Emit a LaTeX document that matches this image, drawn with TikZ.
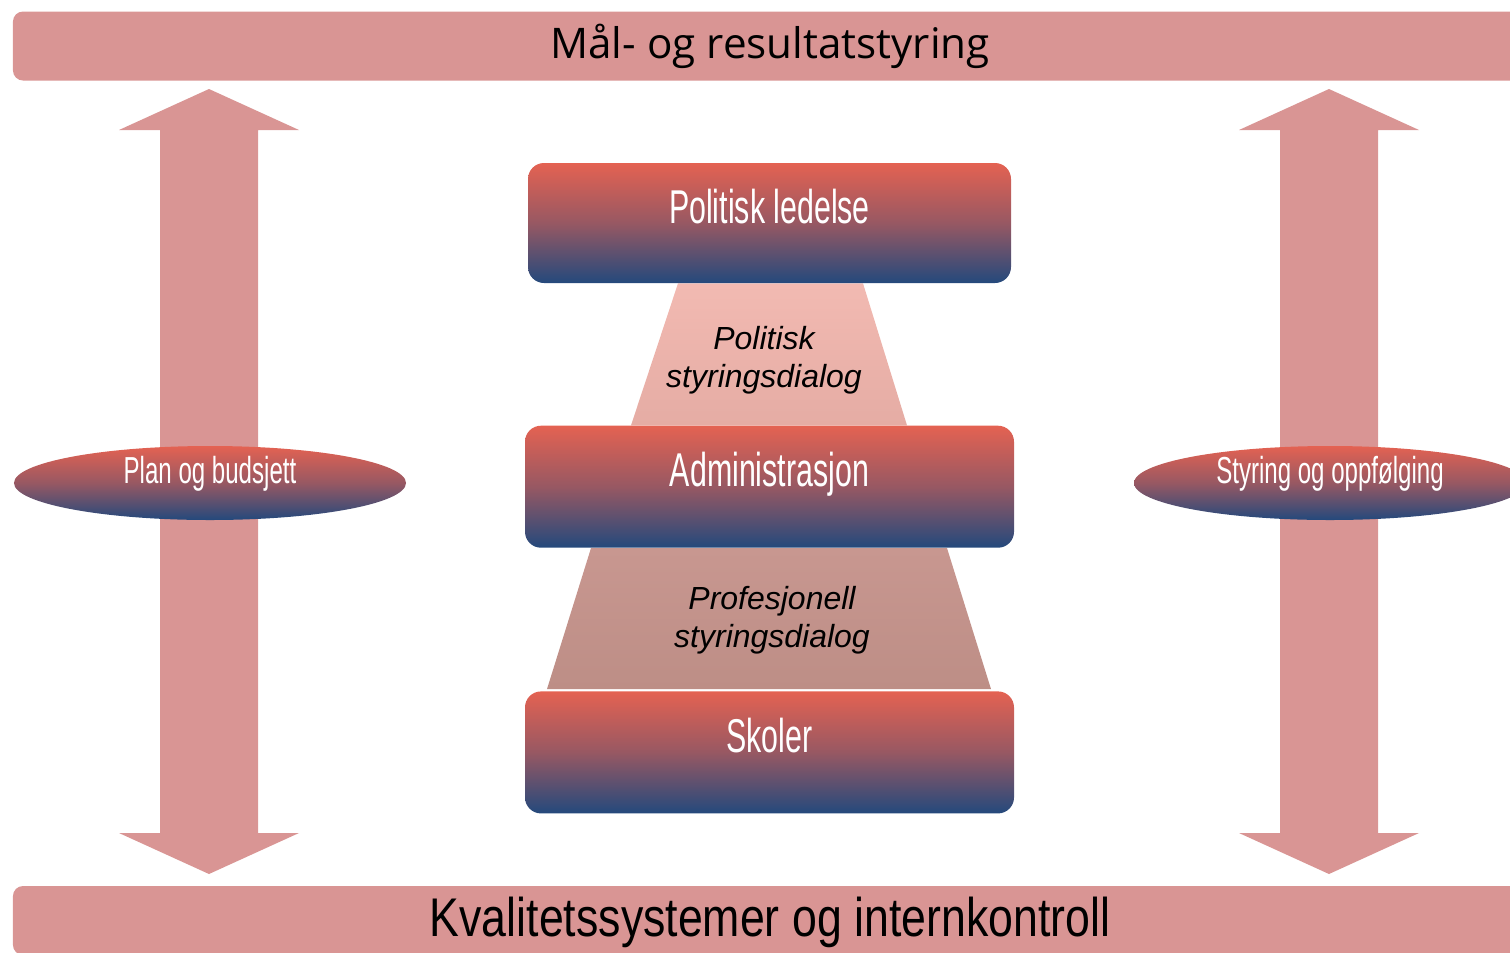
\documentclass[tikz,border=0pt]{standalone}
\usepackage{fontspec}
\setmainfont{Liberation Sans}
\newfontfamily\smalfont[FakeStretch=0.64]{Liberation Sans}
\newfontfamily\kondfont[FakeStretch=0.82]{Liberation Sans}
\newfontfamily\bredfont{Open Sans}
\usepackage{tikz}
\usetikzlibrary{shapes.geometric,positioning,calc,backgrounds}

\definecolor{bjelkefarge}{RGB}{217,149,148}
\definecolor{rodtopp}{RGB}{228,98,82}
\definecolor{blabunn}{RGB}{36,73,124}
\definecolor{dialogA}{RGB}{242,186,178}
\definecolor{dialogB}{RGB}{229,172,164}
\definecolor{dialogC}{RGB}{200,151,144}
\definecolor{dialogD}{RGB}{189,142,134}

\tikzset{
  bjelke/.style = {fill = bjelkefarge, shape = rectangle, rounded corners = 2mm, minimum width = 302.8mm, minimum height = 13.8mm, inner sep = 0pt},
  boks/.style = {top color = rodtopp, bottom color = blabunn, middle color = rodtopp!60!blabunn, shape = rectangle, rounded corners = 3.2mm, inner sep = 0pt},
  sirkel/.style = {top color = rodtopp, bottom color = blabunn, middle color = rodtopp!60!blabunn, shape = ellipse, minimum width = 78.4mm, minimum height = 14.8mm, inner sep = 0pt},
  bokstekst/.style = {text = white, anchor = base, inner sep = 0pt, font = \smalfont\fontsize{27}{30}\selectfont},
  sirkeltekst/.style = {text = white, anchor = base, inner sep = 0pt, font = \smalfont\fontsize{21.4}{24}\selectfont},
  dialog/.style = {align = center, inner sep = 0pt, font = \itshape\fontsize{18.2}{21.5}\selectfont}
}

\begin{document}
\begin{tikzpicture}[x = 0.2mm, y = -0.2mm]
\useasboundingbox (0,0) rectangle (1510,952);

% bjelker oppe og nede
\node[bjelke, font = \bredfont\fontsize{24}{28}\selectfont] (maal) at (770,46) {Mål- og resultatstyring};
\node[bjelke, font = \kondfont\fontsize{31}{34}\selectfont, text depth = 4pt] (kvalitet) at (770,920.5) {Kvalitetssystemer og internkontroll};

% piler
\fill[bjelkefarge] (209,89) -- ++(90,41) -- ++(-41,0) -- ++(0,703) -- ++(41,0) -- ++(-90,41)
  -- ++(-90,-41) -- ++(41,0) -- ++(0,-703) -- ++(-41,0) -- cycle;
\fill[bjelkefarge] (1329,89) -- ++(90,41) -- ++(-41,0) -- ++(0,703) -- ++(41,0) -- ++(-90,41)
  -- ++(-90,-41) -- ++(41,0) -- ++(0,-703) -- ++(-41,0) -- cycle;

\node[sirkel] (plan) at (210,483) {};
\node[sirkeltekst] (plantekst) at (plan.center) {Plan og budsjett};
\node[sirkel] (styring) at (1330,483) {};
\node[sirkeltekst] (styringtekst) at (styring.center) {Styring og oppfølging};

% nivaaene
\node[boks, minimum width = 96.6mm, minimum height = 24mm] (politisk) at (769.5,223) {};
\node[boks, minimum width = 97.8mm, minimum height = 24.4mm, below = 28.4mm of politisk.south, anchor = north] (admin) {};
\node[boks, minimum width = 97.8mm, minimum height = 24.4mm, below = 28.6mm of admin.south, anchor = north] (skoler) {};
\node[bokstekst] (politisktekst) at (politisk.center) {Politisk ledelse};
\node[bokstekst] (admintekst) at (admin.center) {Administrasjon};
\node[bokstekst] (skolertekst) at (skoler.center) {Skoler};

\begin{scope}[on background layer]
\shade[top color = dialogA, bottom color = dialogB] ($(politisk.south)+(-91.5,0)$) -- ($(politisk.south)+(93.5,0)$)
  -- ($(admin.north)+(137.5,0)$) -- ($(admin.north)+(-138.5,0)$) -- cycle;
\shade[top color = dialogC, bottom color = dialogD] ($(admin.south)+(-178.5,0)$) -- ($(admin.south)+(177.5,0)$)
  -- ($(skoler.north)+(221.5,-2)$) -- ($(skoler.north)+(-222.5,-2)$) -- cycle;
\end{scope}
\node[dialog] (politiskdialog) at (764,360) {Politisk\\styringsdialog};
\node[dialog] (profdialog) at (772,620) {Profesjonell\\styringsdialog};
\end{tikzpicture}
\end{document}
